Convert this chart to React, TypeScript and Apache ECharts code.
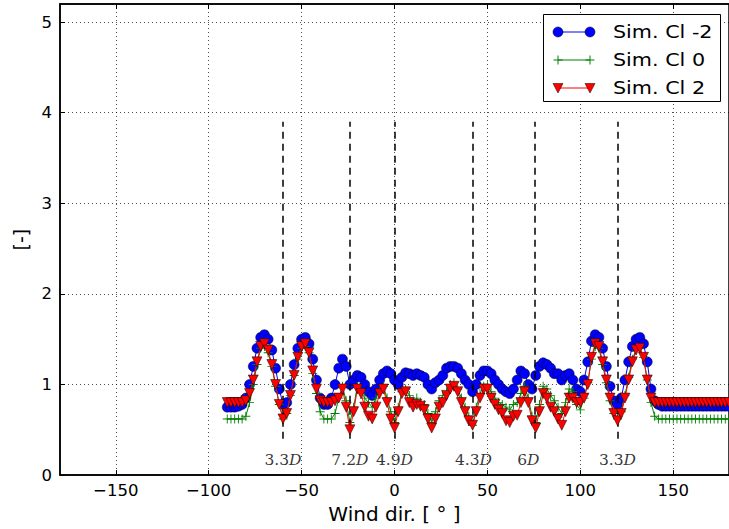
import React, { useEffect, useRef } from 'react';
import * as echarts from 'echarts';

// Wind direction samples [deg]
const windDir = [
  -90, -88, -86, -84, -82, -80, -78, -76, -74, -72,
  -70, -68, -66, -64, -62, -60, -58, -56, -54, -52,
  -50, -48, -46, -44, -42, -40, -38, -36, -34, -32,
  -30, -28, -26, -24, -22, -20, -18, -16, -14, -12,
  -10, -8, -6, -4, -2, 0, 2, 4, 6, 8,
  10, 12, 14, 16, 18, 20, 22, 24, 26, 28,
  30, 32, 34, 36, 38, 40, 42, 44, 46, 48,
  50, 52, 54, 56, 58, 60, 62, 64, 66, 68,
  70, 72, 74, 76, 78, 80, 82, 84, 86, 88,
  90, 92, 94, 96, 98, 100, 102, 104, 106, 108,
  110, 112, 114, 116, 118, 120, 122, 124, 126, 128,
  130, 132, 134, 136, 138, 140, 142, 144, 146, 148,
  150, 152, 154, 156, 158, 160, 162, 164, 166, 168,
  170, 172, 174, 176, 178, 180,
];

// Sim. Cl -2
const simClNeg2 = [
  0.75, 0.75, 0.75, 0.76, 0.78, 0.85, 1.00, 1.20, 1.40, 1.52,
  1.55, 1.50, 1.38, 1.18, 0.95, 0.78, 0.80, 1.00, 1.22, 1.40,
  1.50, 1.52, 1.45, 1.28, 1.05, 0.85, 0.78, 0.78, 0.85, 1.00,
  1.18, 1.28, 1.20, 1.00, 1.05, 1.10, 1.08, 1.00, 0.92, 0.88,
  0.95, 1.05, 1.12, 1.15, 1.12, 1.05, 1.00, 1.08, 1.13, 1.12,
  1.10, 1.12, 1.10, 1.08, 1.00, 0.95, 1.02, 1.05, 1.10, 1.18,
  1.20, 1.20, 1.18, 1.12, 1.05, 1.00, 0.92, 1.00, 1.10, 1.15,
  1.15, 1.12, 1.05, 1.00, 0.95, 0.92, 0.90, 0.95, 1.05, 1.15,
  1.12, 1.00, 0.95, 1.10, 1.20, 1.24, 1.22, 1.18, 1.12, 1.12,
  1.05, 1.10, 1.12, 1.05, 0.95, 0.92, 1.05, 1.25, 1.48, 1.55,
  1.52, 1.40, 1.20, 0.98, 0.82, 0.78, 0.85, 1.05, 1.25, 1.42,
  1.50, 1.52, 1.45, 1.25, 0.95, 0.82, 0.78, 0.76, 0.76, 0.76,
  0.76, 0.76, 0.76, 0.76, 0.76, 0.76, 0.76, 0.76, 0.76, 0.76,
  0.76, 0.76, 0.76, 0.76, 0.76, 0.76,
];

// Sim. Cl 0
const simCl0 = [
  0.62, 0.62, 0.62, 0.62, 0.62, 0.65, 0.80, 1.00, 1.22, 1.40,
  1.42, 1.35, 1.20, 0.98, 0.78, 0.62, 0.68, 0.88, 1.10, 1.28,
  1.40, 1.42, 1.35, 1.12, 0.90, 0.70, 0.62, 0.62, 0.62, 0.68,
  0.85, 0.98, 0.82, 0.58, 0.75, 0.98, 0.92, 0.85, 0.80, 0.75,
  0.85, 0.95, 0.98, 0.85, 0.70, 0.58, 0.75, 0.92, 0.95, 0.88,
  0.82, 0.85, 0.80, 0.78, 0.68, 0.58, 0.70, 0.82, 0.88, 0.92,
  1.00, 1.02, 0.95, 0.85, 0.75, 0.65, 0.55, 0.75, 0.90, 0.98,
  1.00, 0.92, 0.85, 0.80, 0.78, 0.75, 0.72, 0.78, 0.80, 0.90,
  0.98, 0.85, 0.65, 0.58, 0.78, 0.98, 0.95, 0.88, 0.82, 0.75,
  0.68, 0.80, 0.95, 0.92, 0.78, 0.72, 0.85, 1.02, 1.28, 1.42,
  1.40, 1.22, 1.02, 0.82, 0.68, 0.62, 0.70, 0.88, 1.08, 1.28,
  1.38, 1.40, 1.30, 1.05, 0.80, 0.65, 0.62, 0.62, 0.62, 0.62,
  0.62, 0.62, 0.62, 0.62, 0.62, 0.62, 0.62, 0.62, 0.62, 0.62,
  0.62, 0.62, 0.62, 0.62, 0.62, 0.62,
];

// Sim. Cl 2
const simClPos2 = [
  0.80, 0.80, 0.80, 0.80, 0.80, 0.82, 0.90, 1.05, 1.25, 1.42,
  1.45, 1.38, 1.22, 1.00, 0.78, 0.62, 0.68, 0.88, 1.10, 1.30,
  1.42, 1.45, 1.35, 1.15, 0.95, 0.82, 0.80, 0.80, 0.80, 0.82,
  0.85, 0.95, 0.75, 0.50, 0.70, 0.95, 0.90, 0.75, 0.65, 0.62,
  0.75, 0.90, 0.95, 0.80, 0.62, 0.52, 0.70, 0.90, 0.92, 0.80,
  0.75, 0.78, 0.76, 0.72, 0.62, 0.52, 0.62, 0.75, 0.80, 0.88,
  0.95, 0.98, 0.92, 0.80, 0.70, 0.60, 0.55, 0.70, 0.85, 0.95,
  0.95, 0.85, 0.78, 0.72, 0.68, 0.60, 0.58, 0.65, 0.66, 0.80,
  0.92, 0.80, 0.60, 0.52, 0.70, 0.90, 0.85, 0.75, 0.70, 0.62,
  0.55, 0.70, 0.85, 0.85, 0.80, 0.80, 0.85, 1.00, 1.30, 1.45,
  1.42, 1.25, 1.05, 0.85, 0.68, 0.60, 0.68, 0.85, 1.05, 1.25,
  1.38, 1.40, 1.30, 1.05, 0.85, 0.80, 0.80, 0.80, 0.80, 0.80,
  0.80, 0.80, 0.80, 0.80, 0.80, 0.80, 0.80, 0.80, 0.80, 0.80,
  0.80, 0.80, 0.80, 0.80, 0.80, 0.80,
];

// Annotations (distance markers)
const markerLineX = [-60, -24, 0, 42, 75.5, 120];
const markerLabelX = [-60, -24, 0, 42.5, 72, 120];
const markerLabelNum = ['3.3', '7.2', '4.9', '4.3', '6', '3.3'];
const markerLineRange = [0.4, 3.9];
const markerLabelY = 0.17;

const xTicks = [-150, -100, -50, 0, 50, 100, 150];
const seriesNames = ['Sim. Cl -2', 'Sim. Cl 0', 'Sim. Cl 2'];

const BLUE = '#0000ff';
const GREEN = '#008000';
const RED = '#ff0000';
const PLUS = 'path://M4.5,0H5.5V4.5H10V5.5H5.5V10H4.5V5.5H0V4.5H4.5Z';

export default function App() {
  const ref = useRef<HTMLDivElement>(null);

  useEffect(() => {
    if (!ref.current) return;
    const chart = echarts.init(ref.current, null, { renderer: 'svg' });
    const minus = (v: number) => String(v).replace('-', '\u2212');

    const legendRows = [32, 60, 88];
    const lx1 = 558;
    const lx2 = 590;
    const graphic: any[] = [
      {
        type: 'rect',
        shape: { x: 543.5, y: 14.5, width: 177, height: 87 },
        style: { fill: '#fff', stroke: '#000', lineWidth: 1 },
        z: 100,
      },
    ];
    const colors = [BLUE, GREEN, RED];
    legendRows.forEach((y, i) => {
      graphic.push({
        type: 'line',
        shape: { x1: lx1, y1: y, x2: lx2, y2: y },
        style: { stroke: colors[i], lineWidth: 1 },
        z: 101,
      });
      [lx1, lx2].forEach((cx) => {
        if (i === 0) {
          graphic.push({
            type: 'circle',
            shape: { cx, cy: y, r: 5 },
            style: { fill: BLUE, stroke: '#000', lineWidth: 0.5 },
            z: 102,
          });
        } else if (i === 1) {
          graphic.push({
            type: 'line',
            shape: { x1: cx, y1: y - 4.5, x2: cx, y2: y + 4.5 },
            style: { stroke: GREEN, lineWidth: 1 },
            z: 102,
          });
          graphic.push({
            type: 'line',
            shape: { x1: cx - 4.5, y1: y, x2: cx + 4.5, y2: y },
            style: { stroke: GREEN, lineWidth: 1 },
            z: 102,
          });
        } else {
          graphic.push({
            type: 'polygon',
            shape: { points: [[cx - 5, y - 4.5], [cx + 5, y - 4.5], [cx, y + 5]] },
            style: { fill: RED, stroke: '#000', lineWidth: 0.5 },
            z: 102,
          });
        }
      });
      graphic.push({
        type: 'text',
        x: 613,
        y: y,
        scaleX: 1.15,
        style: {
          text: seriesNames[i],
          fontSize: 18,
          fontFamily: 'DejaVu Sans',
          fill: '#000',
          textAlign: 'left',
          textVerticalAlign: 'middle',
          align: 'left',
          verticalAlign: 'middle',
        },
        z: 102,
      });
    });

    const pairs = (ys: number[]) => windDir.map((x, i) => [x, ys[i]]);

    const option: any = {
      animation: false,
      backgroundColor: '#fff',
      grid: {
        left: 60,
        top: 4,
        right: -5,
        bottom: 47,
        show: true,
        borderColor: '#000',
        borderWidth: 1.5,
        containLabel: false,
      },
      xAxis: [
        {
          type: 'value',
          min: -180,
          max: 180,
          axisLine: { show: true, onZero: false, lineStyle: { color: '#000', width: 1.5 } },
          axisTick: { show: true, inside: true, length: 5, customValues: xTicks, lineStyle: { color: '#000', width: 1 } },
          axisLabel: {
            customValues: xTicks,
            formatter: minus,
            color: '#000',
            fontSize: 16.5,
            fontFamily: 'DejaVu Sans',
            margin: 7,
          },
          splitLine: { show: true, lineStyle: { color: '#000', type: [1, 3], width: 0.7 } },
          name: 'Wind dir. [ \u00b0 ]',
          nameLocation: 'middle',
          nameGap: 22,
          nameTextStyle: { fontSize: 20, fontFamily: 'DejaVu Sans', color: '#000' },
        },
        {
          type: 'value',
          position: 'top',
          min: -180,
          max: 180,
          axisLine: { show: true, onZero: false, lineStyle: { color: '#000', width: 1.5 } },
          axisTick: { show: true, inside: true, length: 5, customValues: xTicks, lineStyle: { color: '#000', width: 1 } },
          axisLabel: { show: false },
          splitLine: { show: false },
        },
      ],
      yAxis: [
        {
          type: 'value',
          min: 0,
          max: 5.2,
          interval: 1,
          axisLine: { show: true, onZero: false, lineStyle: { color: '#000', width: 1.5 } },
          axisTick: { show: true, inside: true, length: 5, lineStyle: { color: '#000', width: 1 } },
          axisLabel: {
            color: '#000',
            fontSize: 16.5,
            fontFamily: 'DejaVu Sans',
            margin: 8,
            showMaxLabel: false,
          },
          splitLine: { show: true, lineStyle: { color: '#000', type: [1, 3], width: 0.7 } },
          name: '[-]',
          nameLocation: 'middle',
          nameGap: 26,
          nameTextStyle: { fontSize: 19, fontFamily: 'DejaVu Sans', color: '#000' },
        },
      ],
      series: [
        {
          type: 'line',
          name: seriesNames[0],
          data: pairs(simClNeg2),
          symbol: 'circle',
          symbolSize: 10,
          showAllSymbol: true,
          itemStyle: { color: BLUE, borderColor: '#000', borderWidth: 0.5 },
          lineStyle: { color: BLUE, width: 1 },
          z: 3,
          markLine: {
            silent: true,
            symbol: ['none', 'none'],
            label: { show: false },
            lineStyle: { color: '#000', type: [7, 5], width: 1.5 },
            data: markerLineX.map((x) => [
              { coord: [x, markerLineRange[0]] },
              { coord: [x, markerLineRange[1]] },
            ]),
          },
        },
        {
          type: 'line',
          name: seriesNames[1],
          data: pairs(simCl0),
          symbol: PLUS,
          symbolSize: 9,
          showAllSymbol: true,
          itemStyle: { color: GREEN, borderWidth: 0 },
          lineStyle: { color: GREEN, width: 1 },
          z: 4,
        },
        {
          type: 'line',
          name: seriesNames[2],
          data: pairs(simClPos2),
          symbol: 'triangle',
          symbolRotate: 180,
          symbolSize: 10,
          showAllSymbol: true,
          itemStyle: { color: RED, borderColor: '#000', borderWidth: 0.5 },
          lineStyle: { color: RED, width: 1 },
          z: 5,
        },
        {
          type: 'scatter',
          data: markerLabelX.map((x, i) => [x, markerLabelY, markerLabelNum[i]]),
          symbolSize: 1,
          itemStyle: { color: 'rgba(0,0,0,0)' },
          silent: true,
          label: {
            show: true,
            position: 'inside',
            formatter: (p: any) => `{n|${p.value[2]}}{d|D}`,
            rich: {
              n: { fontFamily: 'DejaVu Serif', fontSize: 15.5, color: '#000' },
              d: { fontFamily: 'DejaVu Serif', fontStyle: 'italic', fontSize: 15.5, color: '#000' },
            },
          },
          z: 6,
        },
      ],
      graphic,
    };

    chart.setOption(option);
    return () => chart.dispose();
  }, []);

  return (
    <div
      ref={ref}
      style={{ position: 'fixed', left: 0, top: 0, width: 729, height: 529, background: '#fff' }}
    />
  );
}
